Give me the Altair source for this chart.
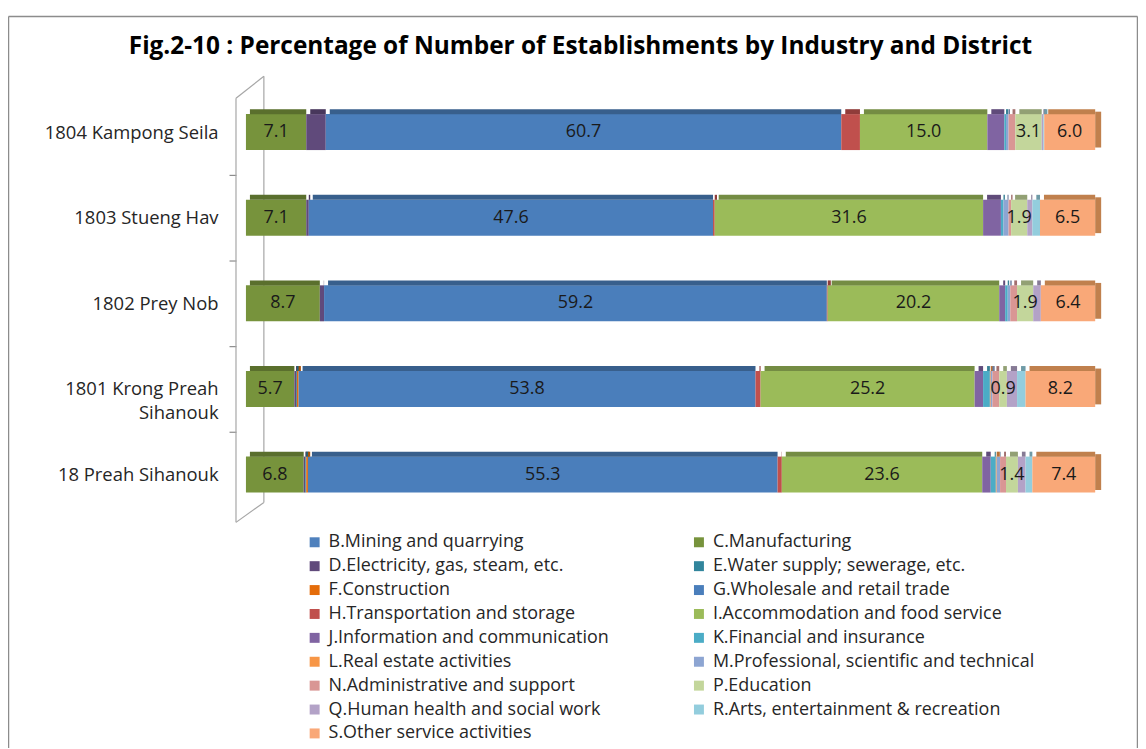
import altair as alt
import pandas as pd

title_text = "Fig.2-10 : Percentage of Number of Establishments by Industry and District"

districts = ["1804 Kampong Seila", "1803 Stueng Hav", "1802 Prey Nob",
             "1801 Krong Preah Sihanouk", "18 Preah Sihanouk"]

industries = ["B.Mining and quarrying", "C.Manufacturing",
              "D.Electricity, gas, steam, etc.", "E.Water supply; sewerage, etc.",
              "F.Construction", "G.Wholesale and retail trade",
              "H.Transportation and storage", "I.Accommodation and food service",
              "J.Information and communication", "K.Financial and insurance",
              "L.Real estate activities", "M.Professional, scientific and technical",
              "N.Administrative and support", "P.Education",
              "Q.Human health and social work", "R.Arts, entertainment & recreation",
              "S.Other service activities"]

labeled = ["C.Manufacturing", "G.Wholesale and retail trade",
           "I.Accommodation and food service", "P.Education",
           "S.Other service activities"]

#               B    C    D    E    F    G     H    I     J    K    L    M    N    P    Q    R    S
kampong_seila = [0.0, 7.1, 2.3, 0.0, 0.0, 60.7, 2.2, 15.0, 2.0, 0.2, 0.0, 0.3, 0.8, 3.1, 0.2, 0.1, 6.0]
stueng_hav    = [0.0, 7.1, 0.3, 0.0, 0.0, 47.6, 0.2, 31.6, 2.1, 0.3, 0.0, 0.6, 0.3, 1.9, 0.6, 0.9, 6.5]
prey_nob      = [0.0, 8.7, 0.5, 0.0, 0.0, 59.2, 0.1, 20.2, 0.7, 0.3, 0.0, 0.3, 0.8, 1.9, 0.9, 0.0, 6.4]
krong_preah   = [0.0, 5.7, 0.2, 0.1, 0.2, 53.8, 0.6, 25.2, 1.0, 0.8, 0.1, 0.2, 0.8, 0.9, 1.2, 1.0, 8.2]
preah_sihan   = [0.0, 6.8, 0.2, 0.1, 0.2, 55.3, 0.5, 23.6, 1.0, 0.6, 0.1, 0.4, 0.7, 1.4, 0.9, 0.8, 7.4]

series = [kampong_seila, stueng_hav, prey_nob, krong_preah, preah_sihan]

colors = ["#4F81BD", "#77933C", "#604A7B", "#31859C", "#E46C0A", "#4A7EBB",
          "#C0504D", "#9BBB59", "#8064A2", "#4BACC6", "#F79646", "#8DA5D2",
          "#D99694", "#C3D69B", "#B3A2C7", "#93CDDD", "#F9A878"]
dark_colors = ["#3A6190", "#5A6F2D", "#48375C", "#246475", "#AB5108", "#385F8C",
               "#903C3A", "#748C43", "#604B7A", "#388195", "#B97035", "#6A7C9E",
               "#A3706F", "#92A074", "#867A95", "#6E9AA6", "#C0804D"]

FONT = "Open Sans"

rows = []
for d, vals in zip(districts, series):
    for i, (ind, v) in enumerate(zip(industries, vals)):
        rows.append({"district": d, "industry": ind, "idx": i, "value": v,
                     "labeled": ind in labeled})
df = pd.DataFrame(rows)

base = alt.Chart(df).transform_filter("datum.value > 0").transform_stack(
    stack="value", groupby=["district"],
    sort=[alt.SortField("idx", order="ascending")], as_=["x0", "x1"])

label_expr = ("datum.label == '1801 Krong Preah Sihanouk' ? "
              "['1801 Krong Preah', 'Sihanouk'] : datum.label")

y_enc = alt.Y("district:N", sort=districts,
              scale=alt.Scale(paddingInner=0.58, paddingOuter=0.29),
              axis=alt.Axis(title=None, domain=False, ticks=True,
                            tickSize=7, tickColor="#8c8c8c", tickWidth=1.2,
                            tickOpacity={"condition": {"test": "datum.value == '1804 Kampong Seila'",
                                                       "value": 0}, "value": 1},
                            tickOffset=-43, labelOffset=43, offset=10,
                            labelFont=FONT, labelFontSize=18.5, labelColor="#262626",
                            labelPadding=11, labelLimit=300, labelLineHeight=24,
                            labelExpr=label_expr))
x_enc = alt.X("x0:Q", scale=alt.Scale(domain=[0, 100]), axis=None)

bars = base.mark_bar().encode(
    x=x_enc, x2="x1:Q", y=y_enc,
    color=alt.Color("industry:N",
                    scale=alt.Scale(domain=industries, range=colors),
                    legend=alt.Legend(title=None, orient="none", legendX=60, legendY=446,
                                      direction="horizontal",
                                      columns=2, columnPadding=81, rowPadding=6,
                                      symbolType="square", symbolSize=100,
                                      symbolStrokeWidth=0, labelFont=FONT,
                                      labelFontSize=18, labelColor="#262626",
                                      labelLimit=500, labelOffset=5)),
)

tops = base.mark_bar(height=5, yOffset=-20.5, xOffset=4).encode(
    x=x_enc, x2="x1:Q", y=y_enc,
    color=alt.Color("industry:N",
                    scale=alt.Scale(domain=[s + " " for s in industries], range=dark_colors),
                    legend=None),
).transform_calculate(industry="datum.industry + ' '")

side = base.transform_filter(
    "datum.industry == 'S.Other service activities'"
).mark_tick(thickness=6, size=36, xOffset=3, yOffset=-2.5, color="#C0804D", opacity=1).encode(
    x=alt.X("x1:Q"), y=y_enc)

texts = base.transform_filter("datum.labeled").transform_calculate(
    mid="(datum.x0 + datum.x1) / 2"
).mark_text(font=FONT, fontSize=18, color="#1a1a1a").encode(
    x="mid:Q", y=y_enc, text=alt.Text("value:Q", format=".1f"))

one = pd.DataFrame({"a": [0]})


def line(x, x2, y, y2, color="#a6a6a6", w=1.2):
    return alt.Chart(one).mark_rule(color=color, strokeWidth=w).encode(
        x=alt.value(x), x2=alt.value(x2), y=alt.value(y), y2=alt.value(y2))


walls = [
    line(18, 18, -13, 415),
    line(-10, -10, 9, 435),
    line(-10, 18, 9, -13),
    line(-10, 18, 435, 415),
]
border = [
    line(-238.5, -238.5, -73, 700, color="#8c8c8c", w=1.5),
    line(-238.5, 895.5, -73, -73, color="#8c8c8c", w=1.5),
    line(895.5, 895.5, -73, 700, color="#8c8c8c", w=1.5),
]

title = alt.Chart(one).mark_text(
    text=title_text, font=FONT, fontSize=24.5, fontWeight="bold", align="center",
    baseline="alphabetic", color="#000000").encode(x=alt.value(336), y=alt.value(-35))

chart = alt.layer(*border, *walls, bars, tops, side, texts, title).resolve_scale(
    color="independent"
).properties(
    width=853, height=430,
    autosize=alt.AutoSizeParams(type="none"),
    padding={"left": 239, "top": 80, "right": 43, "bottom": 230},
).configure_view(strokeWidth=0)

chart.save("out.html", embed_options={"renderer": "svg", "actions": False})
